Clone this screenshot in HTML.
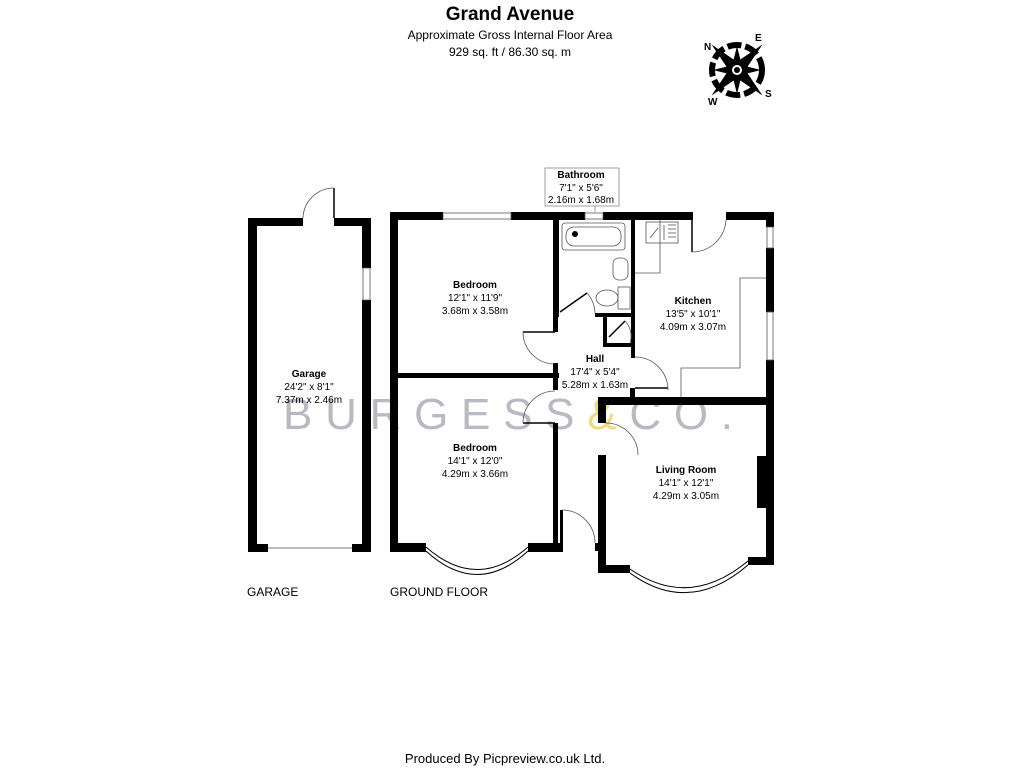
<!DOCTYPE html>
<html><head><meta charset="utf-8"><style>
html,body{margin:0;padding:0;background:#fff;}
svg{display:block;}
text{font-family:"Liberation Sans",Arial,sans-serif;}
</style></head><body>
<svg width="1024" height="768" viewBox="0 0 1024 768" xmlns="http://www.w3.org/2000/svg">
<rect width="1024" height="768" fill="#fff"/>
<text x="510" y="20" font-size="19" font-weight="bold" text-anchor="middle">Grand Avenue</text>
<text x="510" y="39" font-size="12" text-anchor="middle">Approximate Gross Internal Floor Area</text>
<text x="510" y="56" font-size="12" text-anchor="middle">929 sq. ft / 86.30 sq. m</text>

<g transform="translate(737,70)">
  <circle r="25" fill="none" stroke="#000" stroke-width="6" stroke-dasharray="14 4"/>
  <g fill="#000">
    <polygon points="0,-36 6,-5 0,0 -6,-5" transform="rotate(-45)"/>
    <polygon points="0,-36 6,-5 0,0 -6,-5" transform="rotate(45)"/>
    <polygon points="0,-36 6,-5 0,0 -6,-5" transform="rotate(135)"/>
    <polygon points="0,-36 6,-5 0,0 -6,-5" transform="rotate(225)"/>
    <polygon points="0,-24 5,-4 0,0 -5,-4" transform="rotate(0)"/>
    <polygon points="0,-24 5,-4 0,0 -5,-4" transform="rotate(90)"/>
    <polygon points="0,-24 5,-4 0,0 -5,-4" transform="rotate(180)"/>
    <polygon points="0,-24 5,-4 0,0 -5,-4" transform="rotate(270)"/>
  </g>
  <circle r="6" fill="#fff" stroke="#000" stroke-width="2"/>
  <circle r="3" fill="#000"/>
  <text x="-33" y="-20" font-size="10" font-weight="bold">N</text>
  <text x="18" y="-29" font-size="10" font-weight="bold">E</text>
  <text x="28" y="27" font-size="10" font-weight="bold">S</text>
  <text x="-29" y="35" font-size="10" font-weight="bold">W</text>
</g>

<text x="283" y="429" font-size="44" fill="#b9b9c3" textLength="450" lengthAdjust="spacing">B U R G E S S <tspan fill="#f0dc80">&amp;</tspan> C O .</text>

<g fill="#000">
<rect x="248" y="218" width="9" height="334"/>
<rect x="362" y="218" width="9" height="50"/>
<rect x="362" y="300" width="9" height="252"/>
<rect x="248" y="218" width="55" height="8"/>
<rect x="334" y="218" width="37" height="8"/>
<rect x="248" y="544" width="20" height="8"/>
<rect x="352" y="544" width="19" height="8"/>

<rect x="390" y="212" width="8" height="340"/>
<rect x="390" y="212" width="53" height="8"/>
<rect x="511" y="212" width="74" height="8"/>
<rect x="603" y="212" width="90" height="8"/>
<rect x="726" y="212" width="48" height="8"/>
<rect x="766" y="212" width="8" height="15"/>
<rect x="766" y="248" width="8" height="64"/>
<rect x="766" y="360" width="8" height="205"/>
<rect x="553" y="220" width="5" height="112"/>
<rect x="398" y="373" width="161" height="5"/>
<rect x="553" y="363" width="5" height="27"/>
<rect x="553" y="423" width="5" height="120"/>
<rect x="390" y="543" width="36" height="9"/>
<rect x="528" y="543" width="34" height="9"/>
<rect x="560" y="510" width="3" height="42"/>
<rect x="595" y="543" width="8" height="8"/>
<rect x="555" y="220" width="4" height="97"/>
<rect x="631" y="220" width="4" height="138"/>
<rect x="595" y="313" width="38" height="4"/>
<rect x="603" y="316" width="4" height="31"/>
<rect x="603" y="343" width="30" height="4"/>
<rect x="630" y="388" width="5" height="10"/>
<rect x="598" y="397" width="176" height="8"/>
<rect x="598" y="397" width="8" height="26"/>
<rect x="598" y="455" width="8" height="118"/>
<rect x="598" y="565" width="32" height="8"/>
<rect x="748" y="557" width="26" height="8"/>
<rect x="757" y="456" width="9" height="52"/>
</g>

<g fill="none" stroke="#000" stroke-width="1.5">
  <line x1="523" y1="332" x2="555" y2="332"/>
  <line x1="523" y1="423" x2="555" y2="423"/>
  <line x1="635" y1="388" x2="668" y2="388"/>
  <line x1="560" y1="312" x2="587" y2="293"/>
  <line x1="609" y1="337" x2="625" y2="321"/>
  <line x1="692" y1="220" x2="692" y2="252"/>
  <line x1="334" y1="188" x2="334" y2="218"/>
  <line x1="562" y1="510" x2="562" y2="543"/>
</g>
<g fill="none" stroke="#555" stroke-width="0.8">
  <path d="M523,332 A32,32 0 0 0 555,364"/>
  <path d="M523,423 A32,32 0 0 1 555,391"/>
  <path d="M635,357 A33,33 0 0 1 668,390"/>
  <path d="M606,423 A32,32 0 0 1 638,455"/>
  <path d="M562,510 A33,33 0 0 1 595,543"/>
  <path d="M587,293 A32,32 0 0 1 595,313"/>
  <path d="M625,321 A22,22 0 0 1 630,343"/>
  <path d="M692,252 A34,34 0 0 0 726,220"/>
  <path d="M303,218 A31,31 0 0 1 334,188"/>
  <rect x="443" y="213" width="68" height="6"/>
  <rect x="585" y="213" width="18" height="6"/>
  <rect x="767" y="227" width="6" height="21"/>
  <rect x="767" y="312" width="6" height="48"/>
  <rect x="363" y="268" width="7" height="32"/>
  <line x1="268" y1="548" x2="352" y2="548"/>
  <path d="M426,547 Q477,592 528,547" stroke="#000" stroke-width="1"/>
  <path d="M426,551 Q477,598 528,551" stroke="#000" stroke-width="1"/>
  <path d="M630,569 Q689,610 748,561" stroke="#000" stroke-width="1"/>
  <path d="M630,573 Q689,616 748,565" stroke="#000" stroke-width="1"/>
  <polyline points="635,273 660,273 660,220"/>
  <polyline points="766,278 740,278 740,368 681,368 681,397"/>
  <rect x="646" y="222" width="32" height="21"/>
  <line x1="664" y1="225" x2="664" y2="240"/>
  <line x1="668" y1="225" x2="676" y2="225"/><line x1="668" y1="229" x2="676" y2="229"/><line x1="668" y1="233" x2="676" y2="233"/><line x1="668" y1="237" x2="676" y2="237"/>
  <line x1="650" y1="238" x2="658" y2="228"/>
  <rect x="562" y="223" width="63" height="27" rx="3"/>
  <rect x="566" y="227" width="55" height="19" rx="8"/>
  <rect x="613" y="258" width="15" height="22" rx="6"/>
  <rect x="618" y="287" width="12" height="22"/>
  <ellipse cx="607" cy="298" rx="11" ry="8"/>
  <rect x="545" y="168" width="74" height="38" stroke="#888"/>
  <line x1="595" y1="206" x2="595" y2="212" stroke="#888"/>
</g>
<circle cx="575" cy="234" r="3" fill="#000"/>

<g font-size="10" text-anchor="middle">
  <text x="581" y="178" font-weight="bold">Bathroom</text>
  <text x="581" y="191">7'1" x 5'6"</text>
  <text x="581" y="203">2.16m x 1.68m</text>
  <text x="309" y="377" font-weight="bold">Garage</text>
  <text x="309" y="390">24'2" x 8'1"</text>
  <text x="309" y="403">7.37m x 2.46m</text>
  <text x="475" y="288" font-weight="bold">Bedroom</text>
  <text x="475" y="301">12'1" x 11'9"</text>
  <text x="475" y="314">3.68m x 3.58m</text>
  <text x="693" y="304" font-weight="bold">Kitchen</text>
  <text x="693" y="317">13'5" x 10'1"</text>
  <text x="693" y="330">4.09m x 3.07m</text>
  <text x="595" y="362" font-weight="bold">Hall</text>
  <text x="595" y="375">17'4" x 5'4"</text>
  <text x="595" y="388">5.28m x 1.63m</text>
  <text x="475" y="451" font-weight="bold">Bedroom</text>
  <text x="475" y="464">14'1" x 12'0"</text>
  <text x="475" y="477">4.29m x 3.66m</text>
  <text x="686" y="473" font-weight="bold">Living Room</text>
  <text x="686" y="486">14'1" x 12'1"</text>
  <text x="686" y="499">4.29m x 3.05m</text>
</g>
<text x="247" y="596" font-size="12">GARAGE</text>
<text x="390" y="596" font-size="12">GROUND FLOOR</text>
<text x="505" y="763" font-size="13" text-anchor="middle">Produced By Picpreview.co.uk Ltd.</text>
</svg>
</body></html>
